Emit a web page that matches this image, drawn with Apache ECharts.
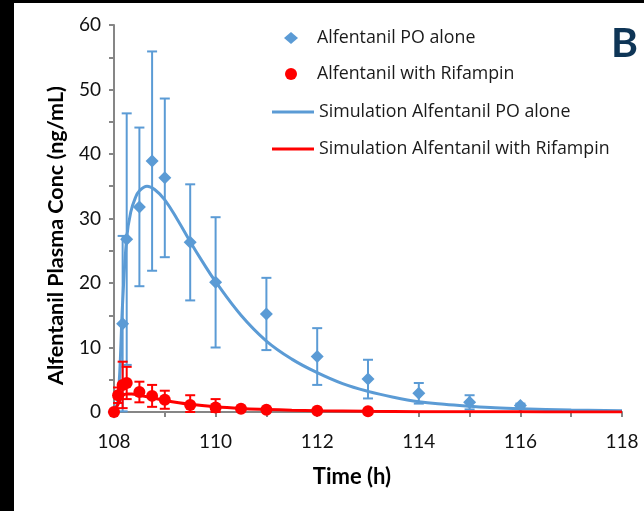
<!DOCTYPE html>
<html>
<head>
    <meta charset="UTF-8">
    <title>Alfentanil</title>
    <style>
        body,
        html {
            width: 100%;
            height: 100%;
            margin: 0;
            padding: 0;
            background: #000;
            overflow: hidden;
        }
        #myChart {
            position: absolute;
            left: 14px;
            top: 3px;
            width: 630px;
            height: 508px;
            background: #fff;
        }
    </style>
    <script src="https://cdn.jsdelivr.net/npm/echarts@6/dist/echarts.min.js"></script>
</head>
<body>
    <div id="myChart"></div>
    <script>
        // 观测数据 PO alone (mean, sd)
        const poTime = [108, 108.17, 108.25, 108.5, 108.75, 109, 109.5, 110, 111, 112, 113, 114, 115, 116];
        const poConc = [0, 13.7, 26.8, 31.8, 38.9, 36.3, 26.3, 20.1, 15.2, 8.6, 5.1, 2.9, 1.5, 1.0];
        const poSd = [0.3, 13.6, 19.5, 12.3, 17.0, 12.3, 9.0, 10.1, 5.6, 4.4, 3.0, 1.6, 1.1, 0.3];

        // 观测数据 with Rifampin
        const rifTime = [108, 108.08, 108.17, 108.25, 108.5, 108.75, 109, 109.5, 110, 110.5, 111, 112, 113];
        const rifConc = [0, 2.6, 4.2, 4.5, 3.1, 2.5, 1.9, 1.1, 0.7, 0.5, 0.35, 0.2, 0.1];
        const rifSd = [0, 1.2, 3.6, 2.5, 1.6, 1.7, 1.4, 1.5, 1.3, 0.3, 0.2, 0, 0];

        // 模拟曲线
        const poSimTime = [108, 108.08, 108.17, 108.25, 108.33, 108.42, 108.5, 108.65, 108.8, 109, 109.25, 109.5, 109.75, 110, 110.5, 111, 111.5, 112, 112.5, 113, 113.5, 114, 114.5, 115, 115.5, 116, 117, 118];
        const poSimConc = [0, 2, 17, 27, 31, 33.2, 34.3, 35, 34.5, 32.9, 29.8, 26.4, 23.2, 20.2, 15, 11, 8.2, 6.1, 4.4, 3.2, 2.3, 1.6, 1.2, 0.9, 0.65, 0.5, 0.3, 0.2];
        const rifSimTime = [108, 108.08, 108.17, 108.25, 108.35, 108.5, 108.75, 109, 109.5, 110, 110.5, 111, 111.5, 112, 113, 114, 115, 116, 117, 118];
        const rifSimConc = [0, 1.2, 2.5, 2.8, 2.8, 2.6, 2.2, 1.8, 1.2, 0.8, 0.55, 0.4, 0.28, 0.2, 0.1, 0.05, 0.03, 0.02, 0.01, 0.01];

        const blue = '#5B9BD5';
        const red = '#FF0000';
        const axisGray = '#868686';
        const font = 'Lato';
        const legendFont = 'Open Sans';

        const zip = (a, b) => a.map((v, i) => [v, b[i]]);
        const zip3 = (a, b, c) => a.map((v, i) => [v, b[i], c[i]]);

        // 误差棒
        function errorBar(color) {
            return function (params, api) {
                const x = api.value(0), y = api.value(1), sd = api.value(2);
                const top = api.coord([x, y + sd]);
                const bot = api.coord([x, Math.max(y - sd, 0)]);
                const w = 5;
                const style = { stroke: color, lineWidth: 2 };
                return {
                    type: 'group',
                    children: [
                        { type: 'line', shape: { x1: top[0], y1: top[1], x2: bot[0], y2: bot[1] }, style },
                        { type: 'line', shape: { x1: top[0] - w, y1: top[1], x2: top[0] + w, y2: top[1] }, style },
                        { type: 'line', shape: { x1: bot[0] - w, y1: bot[1], x2: bot[0] + w, y2: bot[1] }, style }
                    ]
                };
            };
        }

        let myEcharts = echarts.init(document.querySelector('#myChart'));

        let option = {
            animation: false,
            textStyle: { fontFamily: font },
            title: {
                text: 'B',
                left: 592,
                top: 15,
                textStyle: { fontFamily: font, fontSize: 41, fontWeight: 'bold', color: '#0e3556' }
            },
            legend: [
                {
                    data: ['Alfentanil PO alone', 'Alfentanil with Rifampin'],
                    orient: 'vertical',
                    left: 265,
                    top: 21,
                    itemWidth: 14,
                    itemHeight: 12,
                    itemGap: 18,
                    textStyle: { fontFamily: legendFont, fontSize: 17.8, color: '#1a1a1a', padding: [0, 0, 0, 14] }
                },
                {
                    data: [
                        { name: 'Simulation Alfentanil PO alone', icon: 'rect' },
                        { name: 'Simulation Alfentanil with Rifampin', icon: 'rect' }
                    ],
                    orient: 'vertical',
                    left: 253,
                    top: 95,
                    itemWidth: 42,
                    itemHeight: 3,
                    itemGap: 19,
                    textStyle: { fontFamily: legendFont, fontSize: 17.8, color: '#1a1a1a' }
                }
            ],
            grid: { left: 100, right: 22, top: 22, bottom: 99 },
            xAxis: {
                type: 'value',
                min: 108,
                max: 118,
                interval: 2,
                name: 'Time (h)',
                nameLocation: 'middle',
                nameGap: 54,
                nameTextStyle: { fontFamily: font, fontSize: 22, fontWeight: 'bold', color: '#000', padding: [0, 32, 0, 0] },
                axisLine: { lineStyle: { color: axisGray, width: 2 } },
                axisTick: { show: true, length: 5, lineStyle: { color: axisGray, width: 2 } },
                minorTick: { show: true, splitNumber: 2, length: 5, lineStyle: { color: axisGray, width: 2 } },
                axisLabel: { fontFamily: font, fontSize: 19, color: '#111', margin: 20 },
                splitLine: { show: false }
            },
            yAxis: {
                type: 'value',
                min: 0,
                max: 60,
                interval: 10,
                name: 'Alfentanil Plasma Conc (ng/mL)',
                nameLocation: 'middle',
                nameRotate: 90,
                nameGap: 47,
                nameTextStyle: { fontFamily: font, fontSize: 21.5, fontWeight: 'bold', color: '#000', padding: [0, 34, 0, 0] },
                axisLine: { show: true, lineStyle: { color: axisGray, width: 2 } },
                axisTick: { show: true, length: 5, lineStyle: { color: axisGray, width: 2 } },
                minorTick: { show: true, splitNumber: 2, length: 5, lineStyle: { color: axisGray, width: 2 } },
                axisLabel: { fontFamily: font, fontSize: 19, color: '#111', margin: 13 },
                splitLine: { show: false }
            },
            series: [
                {
                    name: 'poErr',
                    type: 'custom',
                    renderItem: errorBar(blue),
                    data: zip3(poTime, poConc, poSd),
                    z: 2
                },
                {
                    name: 'Simulation Alfentanil PO alone',
                    type: 'line',
                    data: zip(poSimTime, poSimConc),
                    showSymbol: false,
                    symbol: 'none',
                    smooth: 0.4,
                    lineStyle: { color: blue, width: 3 },
                    itemStyle: { color: blue },
                    z: 3
                },
                {
                    name: 'Alfentanil PO alone',
                    type: 'scatter',
                    symbol: 'diamond',
                    symbolSize: 13,
                    data: zip(poTime, poConc),
                    itemStyle: { color: blue, opacity: 1 },
                    z: 4
                },
                {
                    name: 'rifErr',
                    type: 'custom',
                    renderItem: errorBar(red),
                    data: zip3(rifTime, rifConc, rifSd),
                    z: 5
                },
                {
                    name: 'Simulation Alfentanil with Rifampin',
                    type: 'line',
                    data: zip(rifSimTime, rifSimConc),
                    showSymbol: false,
                    symbol: 'none',
                    smooth: 0.4,
                    lineStyle: { color: red, width: 3 },
                    itemStyle: { color: red },
                    z: 6
                },
                {
                    name: 'Alfentanil with Rifampin',
                    type: 'scatter',
                    symbol: 'circle',
                    symbolSize: 12,
                    data: zip(rifTime, rifConc),
                    itemStyle: { color: red, opacity: 1 },
                    z: 7
                }
            ]
        };
        myEcharts.setOption(option, true);
    </script>
</body>
</html>
